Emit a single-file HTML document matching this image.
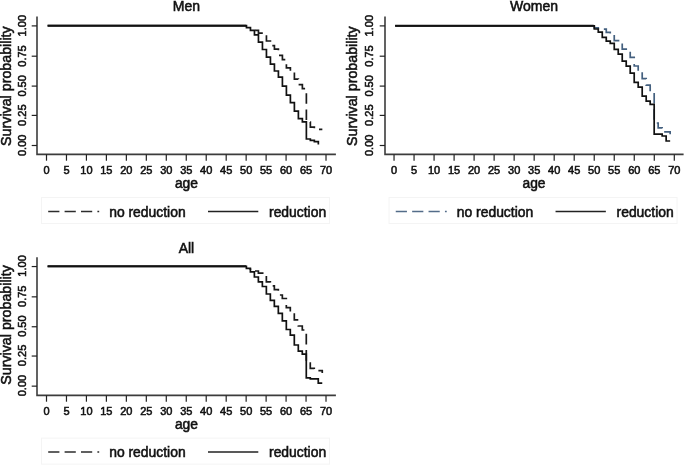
<!DOCTYPE html>
<html><head><meta charset="utf-8"><style>
html,body{margin:0;padding:0;background:#fff;}
svg{display:block;will-change:transform;}
text{font-family:"Liberation Sans",sans-serif;fill:#111;stroke:#111;stroke-width:0.55px;}
.tl{font-size:11px;fill:#111;stroke-width:0.55px;}
.tt{font-size:14px;}
.lb{font-size:13.8px;}
.lg{font-size:13.9px;}
</style></head><body>
<svg width="685" height="467" viewBox="0 0 685 467">
<rect width="685" height="467" fill="#fff"/>
<path d="M254.46,30.30L258.45,30.30L258.45,33.20L266.44,33.20L266.44,41.00L270.43,41.00L270.43,45.70L274.42,45.70L274.42,49.20L278.41,49.20L278.41,55.30L282.41,55.30L282.41,59.60L286.40,59.60L286.40,67.90L290.39,67.90L290.39,71.50L294.39,71.50L294.39,79.10L298.38,79.10L298.38,84.60L302.37,84.60L302.37,88.70L306.37,88.70L306.37,122.00L310.36,122.00L310.36,127.20L314.35,127.20L314.35,129.40L322.34,129.40" fill="none" stroke="#1a1a1a" stroke-width="1.7" stroke-dasharray="10.6 5.7" stroke-dashoffset="211.26" stroke-linejoin="miter"/>
<path d="M47.60,25.70L246.47,25.70L246.47,27.60L250.46,27.60L250.46,30.30L254.46,30.30L254.46,34.80L258.45,34.80L258.45,42.10L262.44,42.10L262.44,49.50L266.44,49.50L266.44,57.20L270.43,57.20L270.43,64.20L274.42,64.20L274.42,71.00L278.41,71.00L278.41,77.20L282.41,77.20L282.41,86.20L286.40,86.20L286.40,95.20L290.39,95.20L290.39,102.60L294.39,102.60L294.39,111.10L298.38,111.10L298.38,118.60L302.37,118.60L302.37,121.90L306.37,121.90L306.37,139.00L310.36,139.00L310.36,140.30L314.35,140.30L314.35,141.60L318.34,141.60L318.34,144.50L318.34,144.50" fill="none" stroke="#111" stroke-width="1.7" stroke-linejoin="miter"/>
<path d="M47.60,25.70H246.15" stroke="#111" stroke-width="2.0"/>
<path d="M37.00,16.50V154.40H335.90" fill="none" stroke="#3c3c3c" stroke-width="1.6"/>
<path d="M31.70,145.50H37.00" stroke="#222" stroke-width="1.2"/>
<text x="0" y="0" transform="translate(25.80,145.30) rotate(-90)" text-anchor="middle" class="tl">0.00</text>
<path d="M31.70,115.40H37.00" stroke="#222" stroke-width="1.2"/>
<text x="0" y="0" transform="translate(25.80,115.20) rotate(-90)" text-anchor="middle" class="tl">0.25</text>
<path d="M31.70,86.10H37.00" stroke="#222" stroke-width="1.2"/>
<text x="0" y="0" transform="translate(25.80,85.90) rotate(-90)" text-anchor="middle" class="tl">0.50</text>
<path d="M31.70,56.20H37.00" stroke="#222" stroke-width="1.2"/>
<text x="0" y="0" transform="translate(25.80,56.00) rotate(-90)" text-anchor="middle" class="tl">0.75</text>
<path d="M31.70,25.90H37.00" stroke="#222" stroke-width="1.2"/>
<text x="0" y="0" transform="translate(25.80,25.70) rotate(-90)" text-anchor="middle" class="tl">1.00</text>
<path d="M46.50,154.40V160.70" stroke="#222" stroke-width="1.2"/>
<text x="46.50" y="173.80" text-anchor="middle" class="tl">0</text>
<path d="M66.47,154.40V160.70" stroke="#222" stroke-width="1.2"/>
<text x="66.47" y="173.80" text-anchor="middle" class="tl">5</text>
<path d="M86.43,154.40V160.70" stroke="#222" stroke-width="1.2"/>
<text x="86.43" y="173.80" text-anchor="middle" class="tl">10</text>
<path d="M106.39,154.40V160.70" stroke="#222" stroke-width="1.2"/>
<text x="106.39" y="173.80" text-anchor="middle" class="tl">15</text>
<path d="M126.36,154.40V160.70" stroke="#222" stroke-width="1.2"/>
<text x="126.36" y="173.80" text-anchor="middle" class="tl">20</text>
<path d="M146.32,154.40V160.70" stroke="#222" stroke-width="1.2"/>
<text x="146.32" y="173.80" text-anchor="middle" class="tl">25</text>
<path d="M166.29,154.40V160.70" stroke="#222" stroke-width="1.2"/>
<text x="166.29" y="173.80" text-anchor="middle" class="tl">30</text>
<path d="M186.25,154.40V160.70" stroke="#222" stroke-width="1.2"/>
<text x="186.25" y="173.80" text-anchor="middle" class="tl">35</text>
<path d="M206.22,154.40V160.70" stroke="#222" stroke-width="1.2"/>
<text x="206.22" y="173.80" text-anchor="middle" class="tl">40</text>
<path d="M226.19,154.40V160.70" stroke="#222" stroke-width="1.2"/>
<text x="226.19" y="173.80" text-anchor="middle" class="tl">45</text>
<path d="M246.15,154.40V160.70" stroke="#222" stroke-width="1.2"/>
<text x="246.15" y="173.80" text-anchor="middle" class="tl">50</text>
<path d="M266.12,154.40V160.70" stroke="#222" stroke-width="1.2"/>
<text x="266.12" y="173.80" text-anchor="middle" class="tl">55</text>
<path d="M286.08,154.40V160.70" stroke="#222" stroke-width="1.2"/>
<text x="286.08" y="173.80" text-anchor="middle" class="tl">60</text>
<path d="M306.05,154.40V160.70" stroke="#222" stroke-width="1.2"/>
<text x="306.05" y="173.80" text-anchor="middle" class="tl">65</text>
<path d="M326.01,154.40V160.70" stroke="#222" stroke-width="1.2"/>
<text x="326.01" y="173.80" text-anchor="middle" class="tl">70</text>
<text x="186.45" y="11.20" text-anchor="middle" class="tt">Men</text>
<text x="186.45" y="188.00" text-anchor="middle" class="lb">age</text>
<text x="0" y="0" transform="translate(11.30,86.10) rotate(-90)" text-anchor="middle" class="lb" style="font-size:14.25px">Survival probability</text>
<rect x="41.50" y="197.50" width="288" height="26" fill="none" stroke="#f4f4f4" stroke-width="1"/>
<path d="M48.20,211.40H99.20" stroke="#1a1a1a" stroke-width="1.45" stroke-opacity="0.92" stroke-dasharray="11.2 5.2"/>
<text x="109.20" y="216.60" class="lg">no reduction</text>
<path d="M208.00,211.40H258.30" stroke="#222" stroke-width="1.45"/>
<text x="269.00" y="216.60" class="lg">reduction</text>
<path d="M594.28,25.80L594.28,25.80L594.28,27.90L598.27,27.90L598.27,29.20L606.26,29.20L606.26,32.30L610.25,32.30L610.25,33.50L614.25,33.50L614.25,40.60L622.23,40.60L622.23,49.10L626.22,49.10L626.22,50.50L630.22,50.50L630.22,57.30L634.21,57.30L634.21,66.00L638.20,66.00L638.20,71.20L642.20,71.20L642.20,78.60L646.19,78.60L646.19,85.20L650.18,85.20L650.18,92.00L654.18,92.00L654.18,123.00L658.17,123.00L658.17,127.80L662.16,127.80L662.16,131.90L670.15,131.90L670.15,134.30L670.15,134.30" fill="none" stroke="#44607f" stroke-width="1.7" stroke-dasharray="10.6 5.7" stroke-dashoffset="198.93" stroke-linejoin="miter"/>
<path d="M395.15,25.80L594.28,25.80L594.28,29.00L598.27,29.00L598.27,32.20L602.27,32.20L602.27,37.30L606.26,37.30L606.26,41.10L610.25,41.10L610.25,43.30L614.25,43.30L614.25,49.30L618.24,49.30L618.24,54.20L622.23,54.20L622.23,61.20L626.22,61.20L626.22,66.20L630.22,66.20L630.22,73.20L634.21,73.20L634.21,82.30L638.20,82.30L638.20,87.20L642.20,87.20L642.20,96.20L646.19,96.20L646.19,101.10L650.18,101.10L650.18,104.30L654.18,104.30L654.18,134.10L662.16,134.10L662.16,136.00L666.15,136.00L666.15,141.00L670.15,141.00" fill="none" stroke="#111" stroke-width="1.7" stroke-linejoin="miter"/>
<path d="M395.15,25.80H593.70" stroke="#111" stroke-width="2.0"/>
<path d="M385.00,16.50V154.40H683.60" fill="none" stroke="#3c3c3c" stroke-width="1.6"/>
<path d="M379.70,145.50H385.00" stroke="#222" stroke-width="1.2"/>
<text x="0" y="0" transform="translate(372.75,145.30) rotate(-90)" text-anchor="middle" class="tl">0.00</text>
<path d="M379.70,115.40H385.00" stroke="#222" stroke-width="1.2"/>
<text x="0" y="0" transform="translate(372.75,115.20) rotate(-90)" text-anchor="middle" class="tl">0.25</text>
<path d="M379.70,86.10H385.00" stroke="#222" stroke-width="1.2"/>
<text x="0" y="0" transform="translate(372.75,85.90) rotate(-90)" text-anchor="middle" class="tl">0.50</text>
<path d="M379.70,56.20H385.00" stroke="#222" stroke-width="1.2"/>
<text x="0" y="0" transform="translate(372.75,56.00) rotate(-90)" text-anchor="middle" class="tl">0.75</text>
<path d="M379.70,25.90H385.00" stroke="#222" stroke-width="1.2"/>
<text x="0" y="0" transform="translate(372.75,25.70) rotate(-90)" text-anchor="middle" class="tl">1.00</text>
<path d="M394.04,154.40V160.70" stroke="#222" stroke-width="1.2"/>
<text x="394.04" y="173.80" text-anchor="middle" class="tl">0</text>
<path d="M414.06,154.40V160.70" stroke="#222" stroke-width="1.2"/>
<text x="414.06" y="173.80" text-anchor="middle" class="tl">5</text>
<path d="M434.08,154.40V160.70" stroke="#222" stroke-width="1.2"/>
<text x="434.08" y="173.80" text-anchor="middle" class="tl">10</text>
<path d="M454.10,154.40V160.70" stroke="#222" stroke-width="1.2"/>
<text x="454.10" y="173.80" text-anchor="middle" class="tl">15</text>
<path d="M474.11,154.40V160.70" stroke="#222" stroke-width="1.2"/>
<text x="474.11" y="173.80" text-anchor="middle" class="tl">20</text>
<path d="M494.13,154.40V160.70" stroke="#222" stroke-width="1.2"/>
<text x="494.13" y="173.80" text-anchor="middle" class="tl">25</text>
<path d="M514.15,154.40V160.70" stroke="#222" stroke-width="1.2"/>
<text x="514.15" y="173.80" text-anchor="middle" class="tl">30</text>
<path d="M534.17,154.40V160.70" stroke="#222" stroke-width="1.2"/>
<text x="534.17" y="173.80" text-anchor="middle" class="tl">35</text>
<path d="M554.19,154.40V160.70" stroke="#222" stroke-width="1.2"/>
<text x="554.19" y="173.80" text-anchor="middle" class="tl">40</text>
<path d="M574.21,154.40V160.70" stroke="#222" stroke-width="1.2"/>
<text x="574.21" y="173.80" text-anchor="middle" class="tl">45</text>
<path d="M594.23,154.40V160.70" stroke="#222" stroke-width="1.2"/>
<text x="594.23" y="173.80" text-anchor="middle" class="tl">50</text>
<path d="M614.24,154.40V160.70" stroke="#222" stroke-width="1.2"/>
<text x="614.24" y="173.80" text-anchor="middle" class="tl">55</text>
<path d="M634.26,154.40V160.70" stroke="#222" stroke-width="1.2"/>
<text x="634.26" y="173.80" text-anchor="middle" class="tl">60</text>
<path d="M654.28,154.40V160.70" stroke="#222" stroke-width="1.2"/>
<text x="654.28" y="173.80" text-anchor="middle" class="tl">65</text>
<path d="M674.30,154.40V160.70" stroke="#222" stroke-width="1.2"/>
<text x="674.30" y="173.80" text-anchor="middle" class="tl">70</text>
<text x="534.00" y="11.20" text-anchor="middle" class="tt">Women</text>
<text x="534.00" y="188.00" text-anchor="middle" class="lb">age</text>
<text x="0" y="0" transform="translate(356.50,86.10) rotate(-90)" text-anchor="middle" class="lb" style="font-size:14.25px">Survival probability</text>
<rect x="389.05" y="197.50" width="288" height="26" fill="none" stroke="#f4f4f4" stroke-width="1"/>
<path d="M395.75,211.40H446.75" stroke="#44607f" stroke-width="1.45" stroke-opacity="0.92" stroke-dasharray="11.2 5.2"/>
<text x="456.75" y="216.60" class="lg">no reduction</text>
<path d="M555.55,211.40H605.85" stroke="#222" stroke-width="1.45"/>
<text x="616.55" y="216.60" class="lg">reduction</text>
<path d="M250.38,268.40L250.38,268.40L250.38,271.00L258.37,271.00L258.37,273.10L266.36,273.10L266.36,281.90L270.35,281.90L270.35,285.90L274.34,285.90L274.34,289.70L278.33,289.70L278.33,295.00L282.33,295.00L282.33,298.50L286.32,298.50L286.32,307.60L290.31,307.60L290.31,312.60L294.31,312.60L294.31,319.80L298.30,319.80L298.30,326.00L302.29,326.00L302.29,330.00L306.29,330.00L306.29,363.20L310.28,363.20L310.28,368.30L314.27,368.30L314.27,370.60L322.26,370.60L322.26,373.00L322.26,373.00" fill="none" stroke="#1a1a1a" stroke-width="1.7" stroke-dasharray="10.6 5.7" stroke-dashoffset="204.68" stroke-linejoin="miter"/>
<path d="M47.60,266.30L246.39,266.30L246.39,268.40L250.38,268.40L250.38,271.90L254.38,271.90L254.38,277.00L258.37,277.00L258.37,281.90L262.36,281.90L262.36,286.50L266.36,286.50L266.36,294.00L270.35,294.00L270.35,300.40L274.34,300.40L274.34,306.40L278.33,306.40L278.33,313.30L282.33,313.30L282.33,320.80L286.32,320.80L286.32,329.50L290.31,329.50L290.31,335.10L294.31,335.10L294.31,345.00L298.30,345.00L298.30,351.20L302.29,351.20L302.29,354.20L306.29,354.20L306.29,377.80L310.28,377.80L310.28,378.80L318.26,378.80L318.26,383.10L322.26,383.10" fill="none" stroke="#111" stroke-width="1.7" stroke-linejoin="miter"/>
<path d="M47.60,266.30H246.15" stroke="#111" stroke-width="2.0"/>
<path d="M37.00,257.15V395.40H335.90" fill="none" stroke="#3c3c3c" stroke-width="1.6"/>
<path d="M31.70,386.15H37.00" stroke="#222" stroke-width="1.2"/>
<text x="0" y="0" transform="translate(25.80,385.55) rotate(-90)" text-anchor="middle" class="tl">0.00</text>
<path d="M31.70,356.05H37.00" stroke="#222" stroke-width="1.2"/>
<text x="0" y="0" transform="translate(25.80,355.45) rotate(-90)" text-anchor="middle" class="tl">0.25</text>
<path d="M31.70,326.75H37.00" stroke="#222" stroke-width="1.2"/>
<text x="0" y="0" transform="translate(25.80,326.15) rotate(-90)" text-anchor="middle" class="tl">0.50</text>
<path d="M31.70,296.85H37.00" stroke="#222" stroke-width="1.2"/>
<text x="0" y="0" transform="translate(25.80,296.25) rotate(-90)" text-anchor="middle" class="tl">0.75</text>
<path d="M31.70,266.55H37.00" stroke="#222" stroke-width="1.2"/>
<text x="0" y="0" transform="translate(25.80,265.95) rotate(-90)" text-anchor="middle" class="tl">1.00</text>
<path d="M46.50,395.40V401.70" stroke="#222" stroke-width="1.2"/>
<text x="46.50" y="414.95" text-anchor="middle" class="tl">0</text>
<path d="M66.47,395.40V401.70" stroke="#222" stroke-width="1.2"/>
<text x="66.47" y="414.95" text-anchor="middle" class="tl">5</text>
<path d="M86.43,395.40V401.70" stroke="#222" stroke-width="1.2"/>
<text x="86.43" y="414.95" text-anchor="middle" class="tl">10</text>
<path d="M106.39,395.40V401.70" stroke="#222" stroke-width="1.2"/>
<text x="106.39" y="414.95" text-anchor="middle" class="tl">15</text>
<path d="M126.36,395.40V401.70" stroke="#222" stroke-width="1.2"/>
<text x="126.36" y="414.95" text-anchor="middle" class="tl">20</text>
<path d="M146.32,395.40V401.70" stroke="#222" stroke-width="1.2"/>
<text x="146.32" y="414.95" text-anchor="middle" class="tl">25</text>
<path d="M166.29,395.40V401.70" stroke="#222" stroke-width="1.2"/>
<text x="166.29" y="414.95" text-anchor="middle" class="tl">30</text>
<path d="M186.25,395.40V401.70" stroke="#222" stroke-width="1.2"/>
<text x="186.25" y="414.95" text-anchor="middle" class="tl">35</text>
<path d="M206.22,395.40V401.70" stroke="#222" stroke-width="1.2"/>
<text x="206.22" y="414.95" text-anchor="middle" class="tl">40</text>
<path d="M226.19,395.40V401.70" stroke="#222" stroke-width="1.2"/>
<text x="226.19" y="414.95" text-anchor="middle" class="tl">45</text>
<path d="M246.15,395.40V401.70" stroke="#222" stroke-width="1.2"/>
<text x="246.15" y="414.95" text-anchor="middle" class="tl">50</text>
<path d="M266.12,395.40V401.70" stroke="#222" stroke-width="1.2"/>
<text x="266.12" y="414.95" text-anchor="middle" class="tl">55</text>
<path d="M286.08,395.40V401.70" stroke="#222" stroke-width="1.2"/>
<text x="286.08" y="414.95" text-anchor="middle" class="tl">60</text>
<path d="M306.05,395.40V401.70" stroke="#222" stroke-width="1.2"/>
<text x="306.05" y="414.95" text-anchor="middle" class="tl">65</text>
<path d="M326.01,395.40V401.70" stroke="#222" stroke-width="1.2"/>
<text x="326.01" y="414.95" text-anchor="middle" class="tl">70</text>
<text x="186.45" y="252.85" text-anchor="middle" class="tt">All</text>
<text x="186.45" y="428.85" text-anchor="middle" class="lb">age</text>
<text x="0" y="0" transform="translate(10.70,324.95) rotate(-90)" text-anchor="middle" class="lb" style="font-size:14.25px">Survival probability</text>
<rect x="41.50" y="438.15" width="288" height="26" fill="none" stroke="#f4f4f4" stroke-width="1"/>
<path d="M48.20,452.05H99.20" stroke="#1a1a1a" stroke-width="1.45" stroke-opacity="0.92" stroke-dasharray="11.2 5.2"/>
<text x="109.20" y="457.25" class="lg">no reduction</text>
<path d="M208.00,452.05H258.30" stroke="#222" stroke-width="1.45"/>
<text x="269.00" y="457.25" class="lg">reduction</text>
</svg>
</body></html>
